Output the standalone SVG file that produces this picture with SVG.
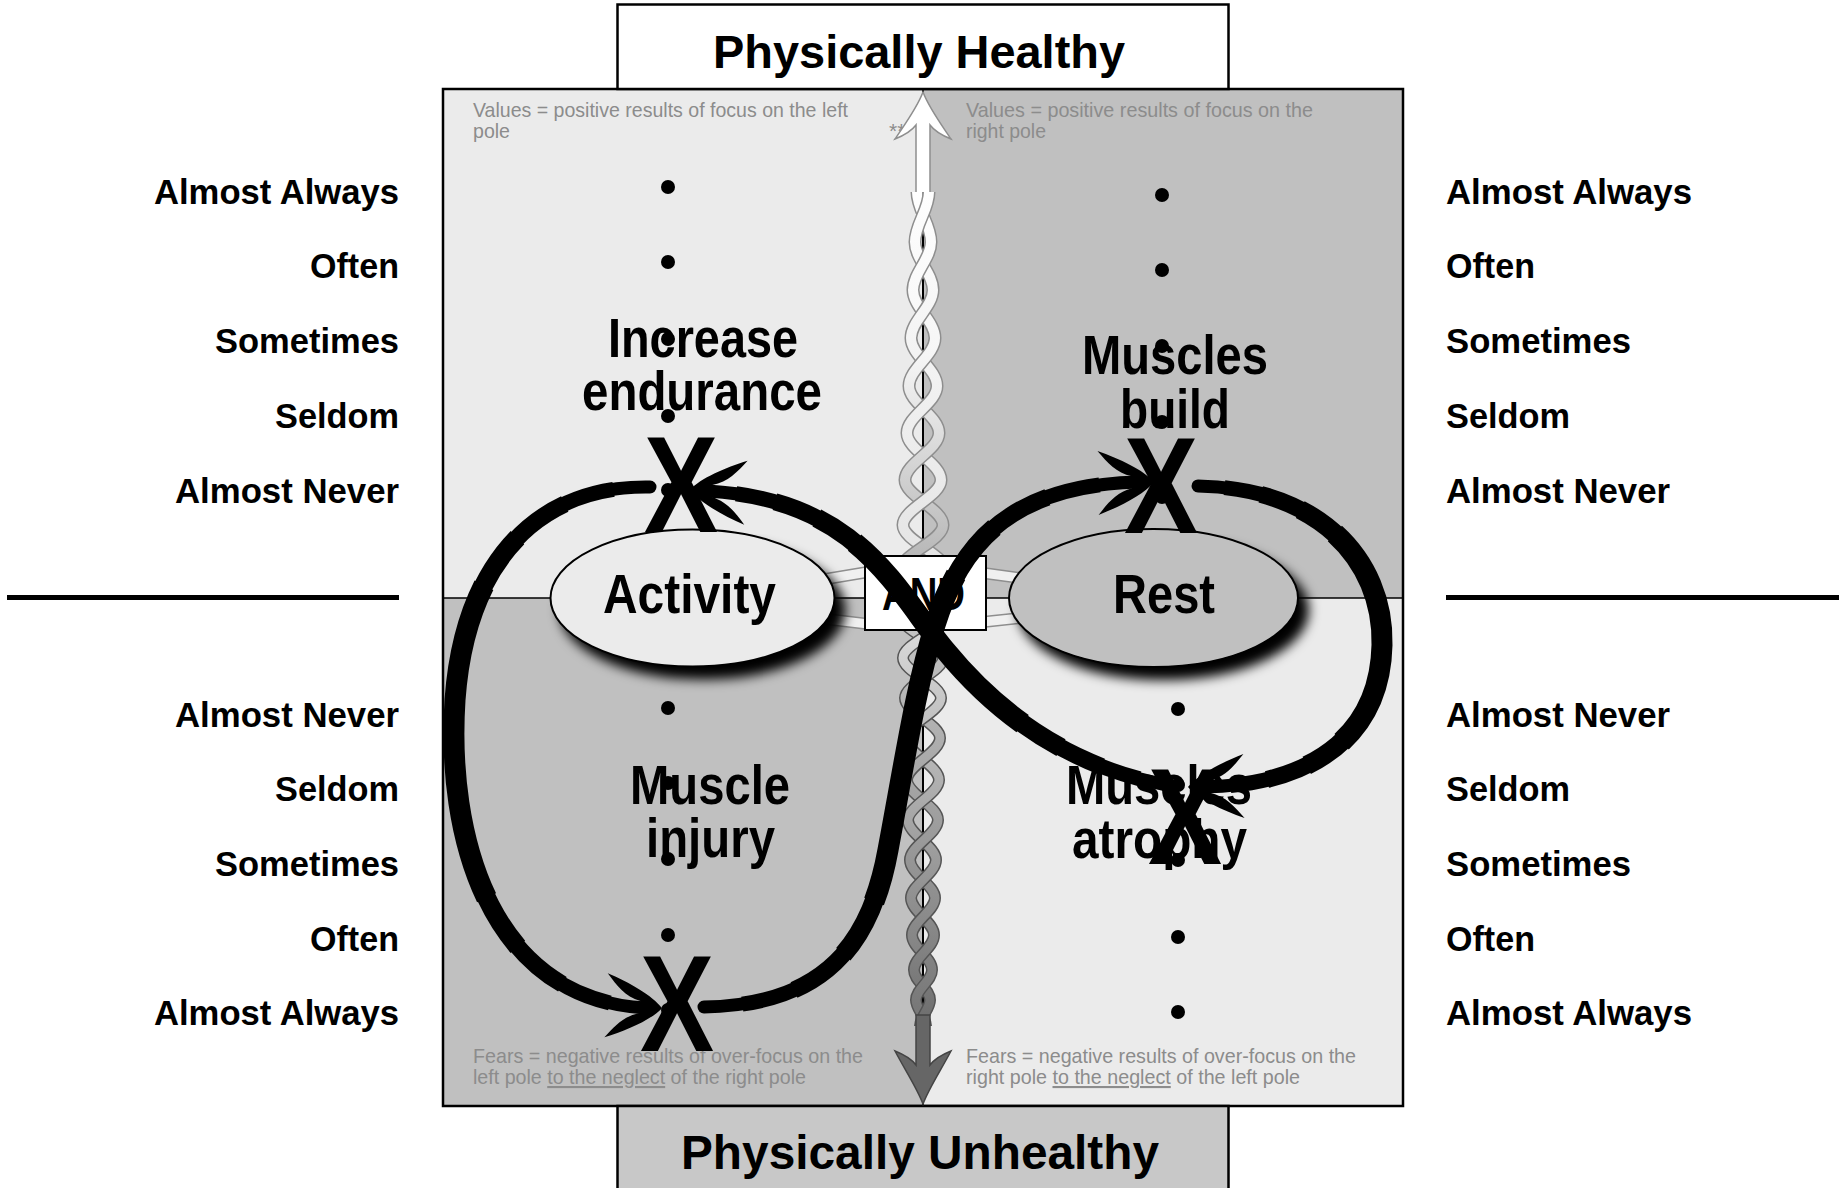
<svg xmlns="http://www.w3.org/2000/svg" xmlns:xlink="http://www.w3.org/1999/xlink" width="1841" height="1188" viewBox="0 0 1841 1188">
  <style>
    text { font-family: "Liberation Sans", Arial, sans-serif; }
    .lbl { font-size: 35px; font-weight: bold; fill: #000; }
    .pole { font-weight: bold; fill: #000; }
    .q { font-size: 56px; font-weight: bold; fill: #000; }
    .note { font-size: 21px; fill: #8c8c8c; }
    .ul { text-decoration: underline; }
    .dot { fill: #000; }
    .xm { font-size: 137px; font-weight: bold; fill: #000; text-anchor: middle; }
    .w { fill: none; stroke: #000; stroke-linecap: butt; }
    .w1 { stroke-width: 13; stroke-linecap: round; }
    .w2 { stroke-width: 15; stroke-dasharray: 90 110; stroke-dashoffset: -5; }
    .w3 { stroke-width: 17; stroke-dasharray: 76 124; stroke-dashoffset: -12; }
    .w4 { stroke-width: 19; stroke-dasharray: 60 140; stroke-dashoffset: -20; }
    .w5 { stroke-width: 21; stroke-dasharray: 44 156; stroke-dashoffset: -28; }
    .uo { fill: none; stroke: #8e8e8e; stroke-width: 13; }
    .uiA { fill: none; stroke: url(#gUA); stroke-width: 10; }
    .uiB { fill: none; stroke: url(#gUB); stroke-width: 10; }
    .lo { fill: none; stroke: #555; stroke-width: 12; }
    .liA { fill: none; stroke: url(#gLA); stroke-width: 9; }
    .liB { fill: none; stroke: url(#gLB); stroke-width: 9; }
    .hs-o { fill: none; stroke: #8e8e8e; stroke-width: 12; }
    .hs-i { fill: none; stroke: #f0f0f0; stroke-width: 9; }
  </style>
  <defs>
    <linearGradient id="gUA" gradientUnits="userSpaceOnUse" x1="0" y1="180" x2="0" y2="570">
      <stop offset="0" stop-color="#ffffff"/>
      <stop offset="1" stop-color="#e4e4e4"/>
    </linearGradient>
    <linearGradient id="gUB" gradientUnits="userSpaceOnUse" x1="0" y1="180" x2="0" y2="570">
      <stop offset="0" stop-color="#ffffff"/>
      <stop offset="0.45" stop-color="#f6f6f6"/>
      <stop offset="1" stop-color="#b4b4b4"/>
    </linearGradient>
    <linearGradient id="gLA" gradientUnits="userSpaceOnUse" x1="0" y1="630" x2="0" y2="1030">
      <stop offset="0" stop-color="#dadada"/>
      <stop offset="1" stop-color="#6c6c6c"/>
    </linearGradient>
    <linearGradient id="gLB" gradientUnits="userSpaceOnUse" x1="0" y1="630" x2="0" y2="1030">
      <stop offset="0" stop-color="#c4c4c4"/>
      <stop offset="1" stop-color="#747474"/>
    </linearGradient>
    <filter id="sh" x="-5%" y="-5%" width="125%" height="150%">
      <feGaussianBlur in="SourceAlpha" stdDeviation="6"/>
      <feOffset dx="10" dy="12" result="o"/>
      <feMerge><feMergeNode in="o"/><feMergeNode in="SourceGraphic"/></feMerge>
    </filter>
    <!-- swallow-tail arrowhead, tip at origin, pointing +x -->
    <path id="ah" d="M4,0 C-6,-12 -30,-24 -52,-32 C-42,-20 -34,-10 -18,-6 L-18,6 C-34,10 -42,20 -52,32 C-30,24 -6,12 4,0 Z"/>
    <!-- infinity loop segments -->
    <path id="sA" pathLength="100" d="M650,487 C540,485 465,560 455,700 C446,840 492,1000 646,1008"/>
    <path id="sB" pathLength="100" d="M704,1007 C810,1005 868,960 888,850 C905,760 915,690 935,625 C960,545 1010,485 1138,482"/>
    <path id="sC" pathLength="100" d="M1198,486 C1318,488 1384,560 1382,645 C1380,735 1313,785 1204,787"/>
    <path id="sD" pathLength="100" d="M1167,785 C1060,765 990,705 945,650 C895,590 860,500 708,491"/>
    <!-- upper twisted rope: back-slash and slash half-turns per strand -->
    <path id="uBsA" d="M915,242 C915,259 933,273 933,290 M911,338 C911,355 937,369 937,386 M907,433 C907,450 941,463 941,480 M903,525 C903,541 945,554 945,570"/>
    <path id="uBsB" d="M917,192 C917,210 931,224 931,242 M913,290 C913,307 935,321 935,338 M909,386 C909,403 939,416 939,433 M905,480 C905,496 943,509 943,525"/>
    <path id="uFsA" d="M929,192 C929,210 915,224 915,242 M933,290 C933,307 911,321 911,338 M937,386 C937,403 907,416 907,433 M941,480 C941,496 903,509 903,525"/>
    <path id="uFsB" d="M931,242 C931,259 913,273 913,290 M935,338 C935,355 909,369 909,386 M939,433 C939,450 905,463 905,480 M943,525 C943,541 901,554 901,570"/>
    <!-- lower twisted rope -->
    <path id="lBsA" d="M903,658 C903,672 941,684 941,698 M906,738 C906,753 939,765 939,780 M908,820 C908,834 936,846 936,860 M911,898 C911,911 934,922 934,935 M914,970 C914,981 930,989 930,1000"/>
    <path id="lBsB" d="M901,616 C901,631 943,643 943,658 M905,698 C905,712 940,724 940,738 M907,780 C907,794 938,806 938,820 M910,860 C910,874 935,885 935,898 M912,935 C912,948 932,957 932,970 M916,1000 C916,1009 926,1017 926,1026"/>
    <path id="lFsA" d="M945,616 C945,631 903,643 903,658 M941,698 C941,712 906,724 906,738 M939,780 C939,794 908,806 908,820 M936,860 C936,874 911,885 911,898 M934,935 C934,948 914,957 914,970 M930,1000 C930,1009 920,1017 920,1026"/>
    <path id="lFsB" d="M943,658 C943,672 905,684 905,698 M940,738 C940,753 907,765 907,780 M938,820 C938,834 910,846 910,860 M935,898 C935,911 912,922 912,935 M932,970 C932,981 916,989 916,1000"/>
  </defs>

  <rect width="1841" height="1188" fill="#fff"/>

  <!-- quadrants -->
  <g id="quadrants">
    <rect x="443" y="89" width="480" height="509" fill="#ebebeb"/>
    <rect x="923" y="89" width="480" height="509" fill="#c0c0c0"/>
    <rect x="443" y="598" width="480" height="508" fill="#c0c0c0"/>
    <rect x="923" y="598" width="480" height="508" fill="#ebebeb"/>
    <line x1="923" y1="89" x2="923" y2="1106" stroke="#000" stroke-width="2"/>
    <line x1="443" y1="598" x2="1403" y2="598" stroke="#000" stroke-width="1.5"/>
    <rect x="443" y="89" width="960" height="1017" fill="none" stroke="#000" stroke-width="2.5"/>
  </g>

  <!-- pole headers -->
  <g id="pole-top">
    <rect x="617.5" y="4.5" width="611" height="84.5" fill="#fff" stroke="#000" stroke-width="2.5"/>
    <text class="pole" x="713" y="68" font-size="47" textLength="412" lengthAdjust="spacingAndGlyphs">Physically Healthy</text>
  </g>
  <g id="pole-bottom">
    <rect x="617.5" y="1106" width="611" height="95" fill="#c8c8c8" stroke="#000" stroke-width="2.5"/>
    <text class="pole" x="681" y="1169" font-size="48" textLength="478" lengthAdjust="spacingAndGlyphs">Physically Unhealthy</text>
  </g>

  <!-- quadrant captions -->
  <g id="notes">
    <text class="note" x="473" y="117" textLength="375" lengthAdjust="spacingAndGlyphs">Values = positive results of focus on the left</text>
    <text class="note" x="473" y="138" textLength="37" lengthAdjust="spacingAndGlyphs">pole</text>
    <text class="note" x="889" y="138">**</text>
    <text class="note" x="966" y="117" textLength="347" lengthAdjust="spacingAndGlyphs">Values = positive results of focus on the</text>
    <text class="note" x="966" y="138" textLength="80" lengthAdjust="spacingAndGlyphs">right pole</text>
    <text class="note" x="473" y="1063" textLength="390" lengthAdjust="spacingAndGlyphs">Fears = negative results of over-focus on the</text>
    <text class="note" x="473" y="1084" textLength="333" lengthAdjust="spacingAndGlyphs">left pole <tspan class="ul">to the neglect</tspan> of the right pole</text>
    <text class="note" x="966" y="1063" textLength="390" lengthAdjust="spacingAndGlyphs">Fears = negative results of over-focus on the</text>
    <text class="note" x="966" y="1084" textLength="334" lengthAdjust="spacingAndGlyphs">right pole <tspan class="ul">to the neglect</tspan> of the left pole</text>
  </g>

  <!-- twisted rope arrows between the poles -->
  <g id="rope">
    <path d="M923,92 C917,108 905,124 895,139 C905,135 913,129 916,125 L916,205 L930,205 L930,125 C933,129 941,135 951,139 C941,124 929,108 923,92 Z" fill="#fff" stroke="#8e8e8e" stroke-width="1.5"/>
    <use xlink:href="#uBsA" class="uo"/><use xlink:href="#uBsA" class="uiA"/>
    <use xlink:href="#uBsB" class="uo"/><use xlink:href="#uBsB" class="uiB"/>
    <use xlink:href="#uFsA" class="uo"/><use xlink:href="#uFsA" class="uiA"/>
    <use xlink:href="#uFsB" class="uo"/><use xlink:href="#uFsB" class="uiB"/>

    <use xlink:href="#lBsA" class="lo"/><use xlink:href="#lBsA" class="liA"/>
    <use xlink:href="#lBsB" class="lo"/><use xlink:href="#lBsB" class="liB"/>
    <use xlink:href="#lFsA" class="lo"/><use xlink:href="#lFsA" class="liA"/>
    <use xlink:href="#lFsB" class="lo"/><use xlink:href="#lFsB" class="liB"/>
    <path d="M923,1104 C917,1088 905,1070 895,1051 C905,1055 913,1061 916,1065 L916,1015 L930,1015 L930,1065 C933,1061 941,1055 951,1051 C941,1070 929,1088 923,1104 Z" fill="#666" stroke="#444" stroke-width="1.5"/>

    <!-- side strands to the poles -->
    <path class="hs-o" d="M826,579 L868,572 M826,619 L868,624 M983,573 L1020,578 M983,622 L1020,618"/>
    <path class="hs-i" d="M826,579 L868,572 M826,619 L868,624 M983,573 L1020,578 M983,622 L1020,618"/>
  </g>

  <g id="and">
    <rect x="865" y="556" width="121" height="74" fill="#fff" stroke="#000" stroke-width="2"/>
    <text class="pole" x="882" y="610" font-size="46" textLength="83" lengthAdjust="spacingAndGlyphs">AND</text>
  </g>

  <g id="activity">
    <ellipse cx="692.5" cy="598" rx="142" ry="68.5" fill="#ebebeb" stroke="#000" stroke-width="2" filter="url(#sh)"/>
    <text class="q" x="603" y="613" textLength="173" lengthAdjust="spacingAndGlyphs">Activity</text>
  </g>
  <g id="rest">
    <ellipse cx="1153.5" cy="598" rx="144.5" ry="69" fill="#c0c0c0" stroke="#000" stroke-width="2" filter="url(#sh)"/>
    <text class="q" x="1113" y="613" textLength="102" lengthAdjust="spacingAndGlyphs">Rest</text>
  </g>

  <!-- scale dots -->
  <g id="dots">
    <circle class="dot" cx="668" cy="187" r="7"/><circle class="dot" cx="668" cy="262" r="7"/>
    <circle class="dot" cx="668" cy="339" r="7"/><circle class="dot" cx="668" cy="416" r="7"/>
    <circle class="dot" cx="668" cy="490" r="7"/>
    <circle class="dot" cx="1162" cy="195" r="7"/><circle class="dot" cx="1162" cy="270" r="7"/>
    <circle class="dot" cx="1162" cy="346" r="7"/><circle class="dot" cx="1162" cy="422" r="7"/>
    <circle class="dot" cx="1162" cy="497" r="7"/>
    <circle class="dot" cx="668" cy="708" r="7"/><circle class="dot" cx="668" cy="783" r="7"/>
    <circle class="dot" cx="668" cy="859" r="7"/><circle class="dot" cx="668" cy="935" r="7"/>
    <circle class="dot" cx="668" cy="1010" r="7"/>
    <circle class="dot" cx="1178" cy="709" r="7"/><circle class="dot" cx="1178" cy="785" r="7"/>
    <circle class="dot" cx="1178" cy="860" r="7"/><circle class="dot" cx="1178" cy="937" r="7"/>
    <circle class="dot" cx="1178" cy="1012" r="7"/>
  </g>

  <g id="increase-endurance">
    <text class="q" x="608" y="357" textLength="190" lengthAdjust="spacingAndGlyphs">Increase</text>
    <text class="q" x="582" y="410" textLength="240" lengthAdjust="spacingAndGlyphs">endurance</text>
  </g>
  <g id="muscles-build">
    <text class="q" x="1082" y="374" textLength="186" lengthAdjust="spacingAndGlyphs">Muscles</text>
    <text class="q" x="1120" y="428" textLength="110" lengthAdjust="spacingAndGlyphs">build</text>
  </g>
  <g id="muscle-injury">
    <text class="q" x="630" y="804" textLength="160" lengthAdjust="spacingAndGlyphs">Muscle</text>
    <text class="q" x="646" y="857" textLength="129" lengthAdjust="spacingAndGlyphs">injury</text>
  </g>
  <g id="muscles-atrophy">
    <text class="q" x="1066" y="804" textLength="186" lengthAdjust="spacingAndGlyphs">Muscles</text>
    <text class="q" x="1072" y="858" textLength="175" lengthAdjust="spacingAndGlyphs">atrophy</text>
  </g>

  <!-- infinity loop connectors, brush-weighted toward the middle of each stroke -->
  <g id="connectors">
    <use xlink:href="#sA" class="w w1"/><use xlink:href="#sA" class="w w2"/><use xlink:href="#sA" class="w w3"/><use xlink:href="#sA" class="w w4"/><use xlink:href="#sA" class="w w5"/>
    <use xlink:href="#sB" class="w w1"/><use xlink:href="#sB" class="w w2"/><use xlink:href="#sB" class="w w3"/><use xlink:href="#sB" class="w w4"/><use xlink:href="#sB" class="w w5"/>
    <use xlink:href="#sC" class="w w1"/><use xlink:href="#sC" class="w w2"/><use xlink:href="#sC" class="w w3"/><use xlink:href="#sC" class="w w4"/><use xlink:href="#sC" class="w w5"/>
    <use xlink:href="#sD" class="w w1"/><use xlink:href="#sD" class="w w2"/><use xlink:href="#sD" class="w w3"/><use xlink:href="#sD" class="w w4"/><use xlink:href="#sD" class="w w5"/>
    <use xlink:href="#ah" transform="translate(1150,482) rotate(-1)"/>
    <use xlink:href="#ah" transform="translate(694,490) rotate(183)"/>
    <use xlink:href="#ah" transform="translate(658,1008) rotate(3)"/>
    <use xlink:href="#ah" transform="translate(1192,787) rotate(179)"/>
  </g>

  <g id="marks">
    <text class="xm" transform="translate(681,483) scale(0.81,1)" y="49">X</text>
    <text class="xm" transform="translate(1161,484) scale(0.81,1)" y="49">X</text>
    <text class="xm" transform="translate(677,1002) scale(0.81,1)" y="49">X</text>
    <text class="xm" transform="translate(1185,815) scale(0.81,1)" y="49">X</text>
  </g>

  <!-- frequency scales -->
  <g id="scale-left">
    <text class="lbl" x="154" y="204" textLength="245" lengthAdjust="spacingAndGlyphs">Almost Always</text>
    <text class="lbl" x="310" y="278" textLength="89" lengthAdjust="spacingAndGlyphs">Often</text>
    <text class="lbl" x="215" y="353" textLength="184" lengthAdjust="spacingAndGlyphs">Sometimes</text>
    <text class="lbl" x="275" y="428" textLength="124" lengthAdjust="spacingAndGlyphs">Seldom</text>
    <text class="lbl" x="175" y="503" textLength="224" lengthAdjust="spacingAndGlyphs">Almost Never</text>
    <line x1="7" y1="597.5" x2="399" y2="597.5" stroke="#000" stroke-width="5"/>
    <text class="lbl" x="175" y="727" textLength="224" lengthAdjust="spacingAndGlyphs">Almost Never</text>
    <text class="lbl" x="275" y="801" textLength="124" lengthAdjust="spacingAndGlyphs">Seldom</text>
    <text class="lbl" x="215" y="876" textLength="184" lengthAdjust="spacingAndGlyphs">Sometimes</text>
    <text class="lbl" x="310" y="951" textLength="89" lengthAdjust="spacingAndGlyphs">Often</text>
    <text class="lbl" x="154" y="1025" textLength="245" lengthAdjust="spacingAndGlyphs">Almost Always</text>
  </g>
  <g id="scale-right">
    <text class="lbl" x="1446" y="204" textLength="246" lengthAdjust="spacingAndGlyphs">Almost Always</text>
    <text class="lbl" x="1446" y="278" textLength="89" lengthAdjust="spacingAndGlyphs">Often</text>
    <text class="lbl" x="1446" y="353" textLength="185" lengthAdjust="spacingAndGlyphs">Sometimes</text>
    <text class="lbl" x="1446" y="428" textLength="124" lengthAdjust="spacingAndGlyphs">Seldom</text>
    <text class="lbl" x="1446" y="503" textLength="224" lengthAdjust="spacingAndGlyphs">Almost Never</text>
    <line x1="1446" y1="597.5" x2="1839" y2="597.5" stroke="#000" stroke-width="5"/>
    <text class="lbl" x="1446" y="727" textLength="224" lengthAdjust="spacingAndGlyphs">Almost Never</text>
    <text class="lbl" x="1446" y="801" textLength="124" lengthAdjust="spacingAndGlyphs">Seldom</text>
    <text class="lbl" x="1446" y="876" textLength="185" lengthAdjust="spacingAndGlyphs">Sometimes</text>
    <text class="lbl" x="1446" y="951" textLength="89" lengthAdjust="spacingAndGlyphs">Often</text>
    <text class="lbl" x="1446" y="1025" textLength="246" lengthAdjust="spacingAndGlyphs">Almost Always</text>
  </g>
</svg>
